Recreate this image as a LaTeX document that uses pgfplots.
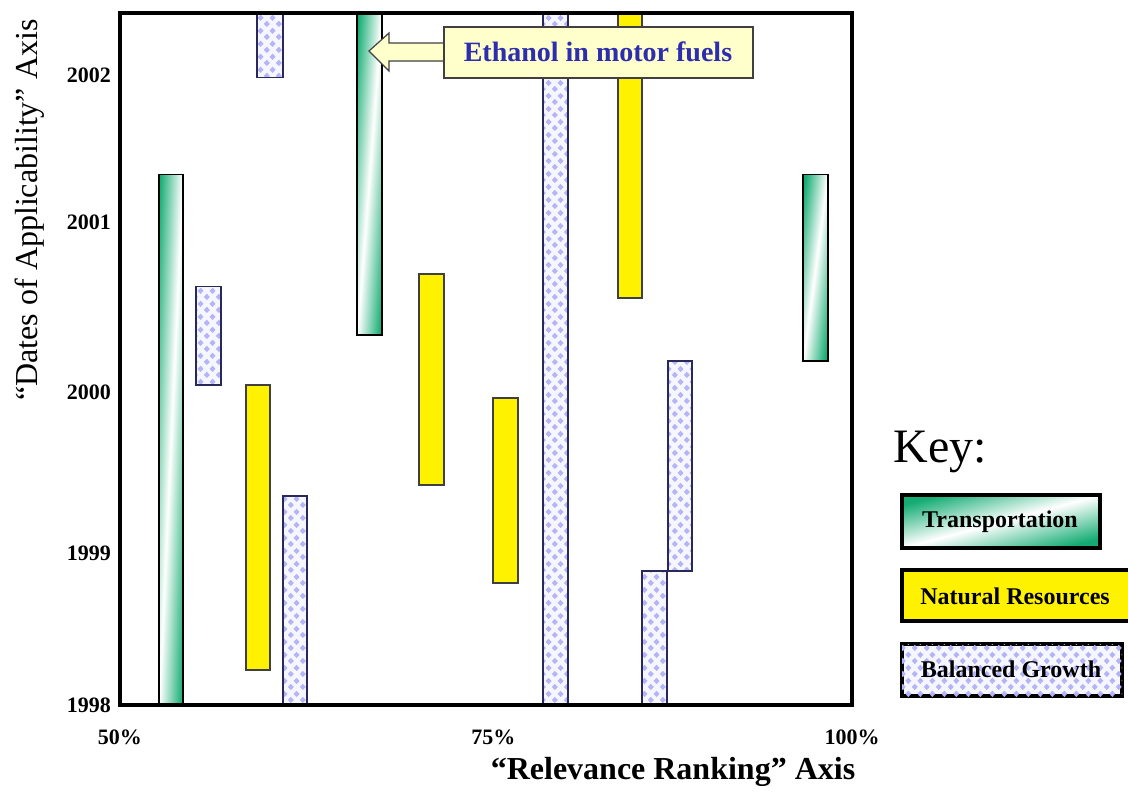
\documentclass[border=0pt]{standalone}
\usepackage{pgfplots}
\pgfplotsset{compat=1.18}
\usepackage{fontspec}
\setmainfont{Liberation Serif}
\usetikzlibrary{patterns}
\definecolor{tgreen}{RGB}{20,172,115}
\definecolor{lav}{RGB}{180,180,246}
\definecolor{lavbg}{RGB}{246,246,255}
\definecolor{lyel}{RGB}{255,255,204}
\definecolor{ethblue}{RGB}{45,45,175}
\definecolor{bgedge}{RGB}{40,40,90}
\pgfdeclarepatternformonly{bgdiamonds}{\pgfqpoint{0pt}{0pt}}{\pgfqpoint{6pt}{6.5pt}}{\pgfqpoint{6pt}{6.5pt}}{%
  \pgfpathmoveto{\pgfqpoint{-0.1pt}{1.625pt}}%
  \pgfpathlineto{\pgfqpoint{1.5pt}{3.3pt}}%
  \pgfpathlineto{\pgfqpoint{3.1pt}{1.625pt}}%
  \pgfpathlineto{\pgfqpoint{1.5pt}{-0.05pt}}%
  \pgfpathclose
  \pgfpathmoveto{\pgfqpoint{2.9pt}{4.875pt}}%
  \pgfpathlineto{\pgfqpoint{4.5pt}{6.55pt}}%
  \pgfpathlineto{\pgfqpoint{6.1pt}{4.875pt}}%
  \pgfpathlineto{\pgfqpoint{4.5pt}{3.2pt}}%
  \pgfpathclose
  \pgfusepath{fill}}
\newcommand{\fs}[1]{\fontsize{#1}{#1}\selectfont}
\tikzset{
  trans/.style={draw=black, line width=0.6pt, left color=tgreen, right color=tgreen, middle color=white, shading angle=#1},
  natres/.style={draw=black!75, line width=0.6pt, fill=yellow},
  balgr/.style={draw=bgedge, line width=0.6pt, fill=lavbg, postaction={pattern=bgdiamonds, pattern color=lav}},
}
\newcommand{\rect}[5]{\addplot[#1] coordinates {(#2,#4) (#3,#4) (#3,#5) (#2,#5)} -- cycle;}
\begin{document}
\begin{tikzpicture}
\begin{axis}[
  scale only axis,
  width=366pt, height=346pt,
  xmin=50, xmax=100, ymin=1998, ymax=2002.394,
  axis on top,
  clip=false,
  axis line style={line width=2.4pt},
  xtick={50,75.5,100}, xticklabels={50\%,75\%,100\%},
  ytick={1998,1998.965,1999.987,2001.067,2002},
  yticklabels={1998,1999,2000,2001,2002},
  major tick length=0pt,
  tick style={draw=none},
  ticklabel style={font=\bfseries\fs{11}},
  xticklabel style={yshift=-9pt},
  yticklabel style={xshift=-1pt},
]
% Transportation
\rect{trans=87.4}{52.66}{54.30}{1998}{2001.371}
\rect{trans=85.6}{66.19}{67.90}{2000.349}{2002.394}
\rect{trans=82.4}{96.65}{98.36}{2000.184}{2001.371}
% Natural Resources
\rect{natres}{58.61}{60.25}{1998.222}{2000.032}
\rect{natres}{70.42}{72.13}{1999.397}{2000.737}
\rect{natres}{75.48}{77.19}{1998.775}{1999.949}
\rect{natres}{84.02}{85.66}{2000.584}{2002.394}
% Balanced Growth
\rect{balgr}{55.19}{56.90}{2000.032}{2000.660}
\rect{balgr}{59.36}{61.13}{2001.987}{2002.394}
\rect{balgr}{61.13}{62.77}{1998}{1999.327}
\rect{balgr}{78.89}{80.60}{1998}{2002.394}
\rect{balgr}{87.43}{89.07}{1998.851}{2000.184}
\rect{balgr}{85.66}{87.36}{1998}{1998.851}
% annotation
\draw[draw=black!75, line width=0.6pt, fill=lyel]
  (rel axis cs:0.3402,0.9451) -- (rel axis cs:0.3675,0.9711) -- (rel axis cs:0.3675,0.9566)
  -- (rel axis cs:0.4426,0.9566) -- (rel axis cs:0.4426,0.9306) -- (rel axis cs:0.3675,0.9306)
  -- (rel axis cs:0.3675,0.9162) -- cycle;
\draw[draw=black!75, line width=0.6pt, fill=lyel] (rel axis cs:0.4426,0.9061) rectangle (rel axis cs:0.8648,0.9798);
\node[font=\bfseries\fs{14}, text=ethblue] at (rel axis cs:0.6530,0.9436) {Ethanol in motor fuels};
% axis labels
\node[rotate=90, font=\fs{16}] at (rel axis cs:-0.1230,0.7153) {“Dates of Applicability” Axis};
\node[font=\bfseries\fs{16}] at (rel axis cs:0.7555,-0.0965) {“Relevance Ranking” Axis};
% key
\node[font=\fs{24}] at (rel axis cs:1.1202,0.3656) {Key:};
\draw[line width=2pt, left color=tgreen, right color=tgreen, middle color=white, shading angle=15]
  (rel axis cs:1.0683,0.2269) rectangle (rel axis cs:1.3388,0.3035);
\node[font=\bfseries\fs{12}] at (rel axis cs:1.2022,0.2645) {Transportation};
\draw[overlay, line width=2pt, fill=yellow] (rel axis cs:1.0683,0.1214) rectangle (rel axis cs:1.3900,0.1951);
\node[font=\bfseries\fs{12}] at (rel axis cs:1.2227,0.1575) {Natural Resources};
\draw[line width=2pt, fill=lavbg, postaction={pattern=bgdiamonds, pattern color=lav}]
  (rel axis cs:1.0683,0.0130) rectangle (rel axis cs:1.3689,0.0882);
\node[font=\bfseries\fs{12}] at (rel axis cs:1.2172,0.0520) {Balanced Growth};
% bounding box
\path (rel axis cs:-0.1639,-0.1199) rectangle (rel axis cs:1.3770,1.0188);
\end{axis}
\end{tikzpicture}
\end{document}
